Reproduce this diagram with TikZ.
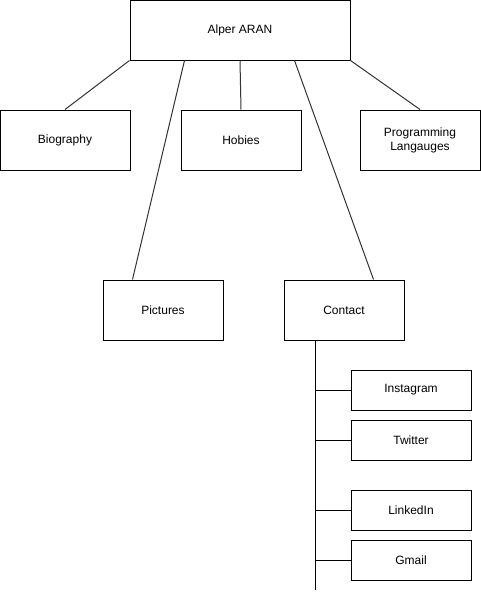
\documentclass[tikz,border=0pt]{standalone}
\usepackage{fontspec}
\setmainfont{Liberation Sans}
\begin{document}
\begin{tikzpicture}[x=1pt,y=-1pt,
  box/.style={draw=black,line width=1pt,fill=white,minimum width=120pt,minimum height=60pt,inner sep=0pt,align=center,font=\fontsize{12}{14}\selectfont},
  sbox/.style={box,minimum height=40pt},
  conn/.style={draw=black!80,line width=1pt}]
\useasboundingbox (0,0) rectangle (481,592);
\node[box,minimum width=220pt] (alper) at (240,30) {Alper ARAN};
\node[box,minimum width=130pt] (bio) at (65,140) {Biography};
\node[box] (hob) at (241,140) {Hobies};
\node[box] (prog) at (420,140) {Programming\\Langauges};
\node[box] (pic) at (163,310) {Pictures};
\node[box] (contact) at (344,310) {Contact};
\node[sbox] (insta) at (411,390) {Instagram};
\node[sbox] (tw) at (411,440) {Twitter};
\node[sbox] (li) at (411,510) {LinkedIn};
\node[sbox] (gm) at (411,560) {Gmail};
\coordinate (spinetop) at (315,340);
\coordinate (spineend) at (315,590);
\draw[conn] (alper.south west) -- (bio.north);
\draw[conn] ([xshift=55pt]alper.south west) -- ([xshift=30pt]pic.north west);
\draw[conn] (alper.south) -- (hob.north);
\draw[conn] ([xshift=165pt]alper.south west) -- ([xshift=90pt]contact.north west);
\draw[conn] (alper.south east) -- (prog.north);
\draw[line width=1pt] (spinetop) -- (spineend);
\foreach \n in {insta,tw,li,gm}{
  \draw[line width=1pt] (\n.west) -- (\n.west -| spinetop);
}
\end{tikzpicture}
\end{document}
